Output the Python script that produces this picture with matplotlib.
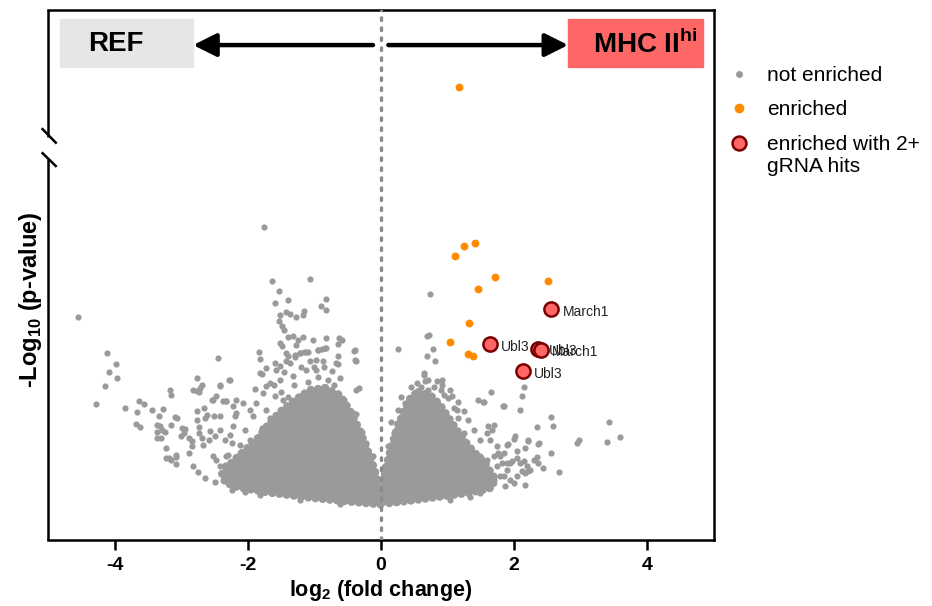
import matplotlib
matplotlib.use("Agg")
import matplotlib.pyplot as plt
from matplotlib.lines import Line2D
from matplotlib.patches import Rectangle

# ---------------------------
# Estilo
# ---------------------------
plt.rcParams["font.family"] = ["Liberation Sans", "DejaVu Sans"]
plt.rcParams["mathtext.fontset"] = "custom"
plt.rcParams["mathtext.rm"] = "Liberation Sans"
plt.rcParams["mathtext.bf"] = "Liberation Sans:bold"

GREY = "#9a9a9a"
ORANGE = "#ff8a00"
RED_FACE = "#ff6666"
RED_EDGE = "#7a0000"

# ---------------------------
# Datos
# ---------------------------
# núcleo denso de cada nube (contorno)
left_core_x = [-0.84, -0.62, -0.47, -0.32, -0.20, -0.09, -0.02, 0.03, -0.47, -1.07,
               -1.67, -2.12, -2.34, -2.39, -2.24, -2.04, -1.85, -1.70, -1.52, -1.29, -1.07]
left_core_y = [3.04, 2.90, 2.60, 2.20, 1.80, 1.40, 1.00, 0.70, 0.76, 0.84,
               0.94, 1.04, 1.14, 1.32, 1.56, 1.80, 2.04, 2.30, 2.56, 2.80, 3.00]
right_core_x = [0.56, 0.74, 0.89, 1.04, 1.19, 1.37, 1.56, 1.71, 1.67, 1.34,
                0.89, 0.44, 0.06, 0.00, 0.03, 0.06, 0.14, 0.23, 0.35, 0.44]
right_core_y = [2.96, 2.90, 2.70, 2.40, 2.10, 1.80, 1.54, 1.24, 1.04, 0.94,
                0.86, 0.78, 0.72, 0.80, 1.00, 1.40, 1.80, 2.20, 2.60, 2.84]

# genes no enriquecidos (puntos sueltos)
grey_x = [
    -1.76, -4.55, -1.64, -1.06, -1.53, -1.59, -1.39, -0.83, -0.90, -0.82,
    -1.52, -1.43, -1.36, -1.27, -1.16, -1.17, -1.53, -1.49, -1.46, -1.39,
    -1.32, -1.24, -1.27, -1.17, -1.02, -0.82, -0.63, -0.59, -0.64, -0.95,
    -0.88, -0.82, -1.48, -1.15, -1.09, -1.22, -1.29, -1.39, -1.83, -1.82,
    -2.44, -0.40, -0.38, -0.64, -0.65, -4.12, -3.98, -4.08, -3.97, -4.15,
    -4.28, -3.85, -3.63, -3.56, -3.67, -3.68, -3.62, -3.44, -3.34, -3.27,
    -3.36, -3.29, -3.37, -3.23, -3.08, -3.17, -3.16, -2.82, -2.74, -2.69,
    -2.77, -2.42, -2.27, -2.52, -2.37, -2.33, -2.83, -3.19, -3.08, -1.89,
    -1.79, -1.72, -1.59, -1.51, -1.42, -1.29, -1.12, -0.33, -0.56, -0.38,
    -0.29, -0.14, -1.90, -3.32, -3.36, -3.31, -3.24, -3.15, -3.09, -3.07,
    -3.23, -3.15, -3.08, -2.99, -2.94, -2.96, -3.00, -2.89, -2.84, -2.84,
    -2.89, -2.77, -2.72, -2.77, -2.66, -2.62, -2.64, -2.77, -2.73, -2.73,
    -2.69, -2.67, -2.59, -2.54, -2.47, -2.32, -2.41, -2.28, -2.50, -2.57,
    -2.49, -2.42, -2.34, -2.27, -2.22, -2.24, -2.19, -2.17, -2.22, -2.52,
    -2.47, -2.42, -2.37, -2.32, -2.22, -2.17, -2.12, -1.52, -1.42, -1.22,
    -0.94, -0.84, -1.57, -1.37, -1.07, -0.97, -0.87, -0.74, -0.67, -0.62,
    -1.52, -1.32, -1.12, -0.97, -1.82, -1.72, -1.67, -1.77, -1.59, -1.87,
    -1.97, -2.07, -2.17, -2.42, -1.92, -1.72, -1.47, -1.22, -0.57, -0.42,
    -0.32, -0.22, -0.12, -0.37, -0.39, -0.39, -2.04, -1.97, -2.12, -2.30,
    -2.34, -1.67, -1.79, -2.64, -2.49, -2.04, -2.24, -1.82, -2.75, -1.22,
    -0.62, -1.30, -1.10, -0.95, -0.80, -0.70, -1.45, -1.20, -1.00, -0.85,
    -1.60, -1.50, -1.40,
    0.73, 0.26, 0.69, 0.72, 0.78, 0.69, 0.81, 0.64, 0.84, 0.91,
    1.65, 2.15, 2.11, 1.45, 1.54, 1.84, 2.08, 2.56, 2.58, 2.34,
    3.42, 3.59, 3.40, 2.98, 2.95, 1.60, 1.70, 2.01, 2.00, 2.21,
    2.36, 2.16, 2.55, 2.34, 2.29, 2.36, 2.43, 2.67, 2.19, 2.24,
    2.16, 2.04, 2.09, 1.94, 1.89, 1.84, 1.59, 1.64, 1.74, 1.76,
    1.69, 1.81, 1.89, 1.84, 1.94, 2.04, 2.11, 1.64, 1.49, 2.16,
    1.99, 1.86, 1.79, 1.69, 2.14, 2.21, 1.96, 1.79, 1.89, 2.20,
    1.90, 2.04, 2.37, 1.53, 1.83, 1.66, 0.64, 0.66, 0.54, 0.91,
    1.04, 1.01, 0.49, 0.36, 0.31, 1.09, 1.24, 1.16, 1.31, 1.49,
    1.34, 1.49, 1.59, 1.74, 0.11, 0.19, 0.24, 0.71, 1.06, 1.14,
    1.24, 1.39, 1.04, 1.34, 0.60, 0.80, 0.95, 0.45, 0.70, 0.90,
    1.15, 0.30, 0.25, 0.15,
]
grey_y = [
    6.25, 4.45, 5.17, 5.21, 4.98, 4.73, 4.79, 4.81, 4.68, 4.59,
    4.49, 4.55, 4.51, 4.45, 4.57, 4.50, 4.37, 4.27, 4.19, 4.05,
    4.08, 4.00, 3.90, 4.05, 3.99, 4.03, 4.03, 4.00, 3.92, 3.79,
    3.81, 3.83, 3.87, 3.75, 3.75, 3.73, 3.70, 3.68, 3.75, 3.61,
    3.63, 3.78, 3.58, 3.67, 3.52, 3.74, 3.51, 3.35, 3.23, 3.08,
    2.72, 2.64, 2.78, 2.72, 2.55, 2.31, 2.25, 2.59, 2.47, 2.61,
    2.30, 2.20, 2.03, 1.83, 1.51, 3.00, 2.90, 2.99, 2.95, 3.10,
    3.23, 3.10, 3.20, 2.80, 2.78, 2.78, 1.47, 1.63, 1.65, 3.01,
    3.32, 3.43, 3.53, 3.48, 3.57, 3.65, 3.75, 3.03, 2.80, 2.51,
    2.15, 1.68, 1.10, 2.27, 2.15, 2.03, 2.16, 2.30, 2.45, 2.43,
    1.63, 1.59, 1.70, 2.23, 2.21, 2.13, 2.07, 2.03, 1.97, 1.87,
    1.73, 2.97, 3.03, 2.57, 2.63, 2.50, 2.43, 2.40, 2.25, 2.13,
    2.03, 1.89, 1.99, 2.80, 2.87, 2.77, 3.08, 3.20, 2.47, 2.17,
    2.07, 2.20, 2.00, 2.10, 2.27, 1.93, 2.47, 2.53, 2.67, 1.67,
    1.60, 1.47, 1.33, 1.67, 1.53, 1.40, 1.73, 3.94, 3.74, 3.74,
    3.80, 3.83, 3.40, 3.53, 3.57, 3.60, 3.57, 3.37, 3.53, 3.23,
    3.20, 3.27, 3.40, 3.40, 3.34, 3.07, 3.13, 2.93, 2.87, 2.73,
    2.60, 2.73, 2.80, 2.47, 2.47, 2.60, 2.80, 2.87, 2.80, 2.53,
    2.13, 1.93, 1.67, 3.00, 3.80, 3.60, 2.20, 2.00, 1.90, 1.70,
    1.50, 2.44, 2.24, 1.24, 1.16, 0.96, 1.00, 0.90, 1.36, 0.80,
    0.72, 3.10, 3.15, 3.25, 3.20, 3.10, 3.35, 3.45, 3.45, 3.45,
    3.10, 2.95, 2.85,
    4.92, 3.81, 4.07, 4.10, 3.81, 3.67, 3.58, 3.30, 3.17, 3.20,
    2.95, 3.06, 2.88, 2.79, 2.75, 2.67, 2.59, 2.46, 2.27, 2.26,
    2.35, 2.05, 1.95, 1.99, 1.93, 2.27, 2.30, 2.07, 2.02, 2.00,
    1.91, 1.83, 1.73, 1.65, 1.60, 1.53, 1.43, 1.35, 1.47, 1.40,
    1.33, 1.63, 1.53, 1.53, 1.90, 1.73, 2.13, 2.00, 1.87, 1.73,
    1.67, 1.53, 1.40, 1.27, 1.20, 1.27, 1.37, 1.07, 0.93, 1.10,
    1.13, 1.08, 1.27, 1.20, 1.57, 1.37, 1.57, 1.67, 1.53, 1.98,
    1.91, 1.77, 1.93, 2.75, 2.67, 2.20, 3.33, 3.17, 3.13, 3.10,
    3.00, 2.83, 2.93, 2.73, 2.57, 2.63, 2.57, 2.43, 2.40, 2.00,
    1.80, 1.67, 1.60, 1.47, 1.87, 2.13, 2.33, 3.00, 2.87, 2.60,
    2.13, 2.20, 0.80, 0.86, 3.05, 3.05, 2.90, 3.05, 3.20, 3.00,
    2.75, 2.85, 2.60, 2.35,
]

# genes enriquecidos
enriched_x = [1.11, 1.25, 1.41, 1.71, 1.45, 2.51, 1.32, 1.04, 1.30, 1.38, 1.17]
enriched_y = [5.67, 5.87, 5.93, 5.25, 5.01, 5.18, 4.34, 3.96, 3.71, 3.68, 9.04]

# enriquecidos con 2+ gRNA
hits_x = [2.56, 1.63, 2.36, 2.40, 2.13]
hits_y = [4.61, 3.91, 3.82, 3.80, 3.37]
hits_labels = ["March1", "Ubl3", "Ubl3", "March1", "Ubl3"]

# ---------------------------
# Figura
# ---------------------------
fig = plt.figure(figsize=(9.32, 6.06), dpi=100)
ax = fig.add_axes([0.0515, 0.1089, 0.7146, 0.8746])

for cx, cy in [(left_core_x, left_core_y), (right_core_x, right_core_y)]:
    ax.fill(cx, cy, color=GREY, lw=0, zorder=1)
    # borde punteado para que el contorno parezca hecho de puntos
    ax.plot(cx + cx[:1], cy + cy[:1], color=GREY, lw=5.5,
            linestyle=(0, (0.05, 0.9)), dash_capstyle="round", zorder=1)

ax.scatter(grey_x, grey_y, s=20, color=GREY, linewidths=0, zorder=2)
ax.scatter(enriched_x, enriched_y, s=32, color=ORANGE, linewidths=0, zorder=4)
ax.scatter(hits_x, hits_y, s=105, facecolor=RED_FACE, edgecolor=RED_EDGE,
           linewidths=1.8, zorder=5)
for x, y, lab in zip(hits_x, hits_y, hits_labels):
    ax.annotate(lab, (x, y), xytext=(8, -2), textcoords="offset points",
                ha="left", va="center", fontsize=10, color="#222222", zorder=6)

ax.axvline(0, color="#8a8a8a", lw=2.4, linestyle=(0, (0.8, 2.2)),
           dash_capstyle="round", zorder=3)

ax.set_xlim(-5, 5)
ax.set_ylim(0, 10.58)
ax.set_xticks([-4, -2, 0, 2, 4])
ax.set_xticklabels(["-4", "-2", "0", "2", "4"], fontsize=14, fontweight="bold")
ax.set_yticks([])
ax.tick_params(axis="x", direction="out", length=7, width=1.8, pad=5)
for side in ["top", "right", "bottom"]:
    ax.spines[side].set_linewidth(1.8)
ax.spines["left"].set_visible(False)

# eje y con corte
kw = dict(transform=ax.transAxes, color="black", lw=1.8, clip_on=False,
          solid_capstyle="butt")
ax.plot([0, 0], [0, 0.719], **kw)
ax.plot([0, 0], [0.760, 1], **kw)
ax.plot([-0.0095, 0.013], [0.777, 0.748], **kw)
ax.plot([-0.0095, 0.013], [0.7315, 0.704], **kw)

ax.set_xlabel(r"log$_\mathbf{2}$ (fold change)", fontsize=15.5,
              fontweight="bold", labelpad=3)
ax.text(-0.026, 0.453, r"-Log$_\mathbf{10}$ (p-value)", transform=ax.transAxes,
        rotation=90, ha="center", va="center", fontsize=17, fontweight="bold")

# cajas y flechas
ax.add_patch(Rectangle((-4.82, 9.44), 2.0, 0.96, color="#e6e6e6", zorder=2))
ax.add_patch(Rectangle((2.81, 9.44), 2.03, 0.96, color=RED_FACE, zorder=2))
ax.text(-3.98, 9.90, "REF", ha="center", va="center", fontsize=20,
        fontweight="bold", zorder=3)
ax.text(3.96, 9.90, r"MHC II$^\mathbf{hi}$", ha="center", va="center",
        fontsize=20, fontweight="bold", zorder=3)
arrow = dict(arrowstyle="-|>", color="black", lw=3.2, mutation_scale=35,
             shrinkA=0, shrinkB=0)
ax.annotate("", xy=(-2.82, 9.88), xytext=(-0.12, 9.88), arrowprops=arrow)
ax.annotate("", xy=(2.81, 9.88), xytext=(0.11, 9.88), arrowprops=arrow)

# leyenda
handles = [
    Line2D([], [], ls="none", marker="o", ms=4, mfc=GREY, mec=GREY),
    Line2D([], [], ls="none", marker="o", ms=6, mfc=ORANGE, mec=ORANGE),
    Line2D([], [], ls="none", marker="o", ms=10, mfc=RED_FACE, mec=RED_EDGE,
           mew=1.8),
]
labels = ["not enriched", "enriched", "enriched with 2+"]
fig.legend(handles, labels, loc="upper left", bbox_to_anchor=(0.782, 0.891),
           frameon=False, fontsize=15, handlelength=1.0, handletextpad=0.85,
           borderpad=0, borderaxespad=0, labelspacing=0.74)
fig.text(767 / 932, 1 - 166 / 606, "gRNA hits", fontsize=15,
         ha="left", va="center")

fig.savefig("out.png", dpi=100)
